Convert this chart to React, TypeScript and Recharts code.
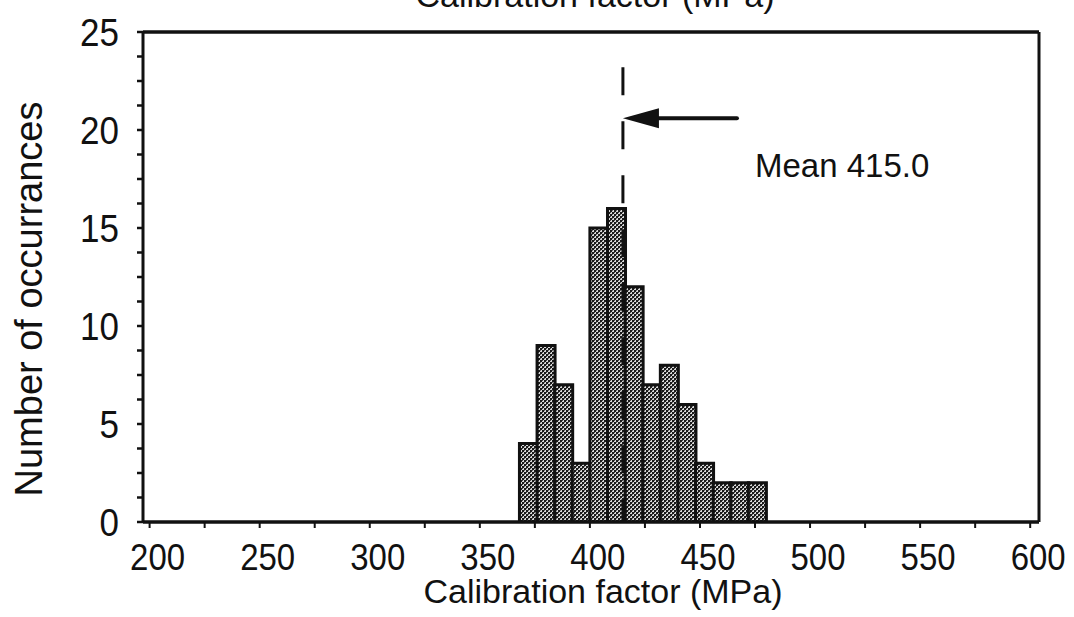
import React from 'react';
import {
  ComposedChart,
  Bar,
  XAxis,
  YAxis,
  ReferenceLine,
  ReferenceDot,
} from 'recharts';

// ---- data ----
const binStarts = [368, 376, 384, 392, 400, 408, 416, 424, 432, 440, 448, 456, 464, 472];
const counts = [4, 9, 7, 3, 15, 16, 12, 7, 8, 6, 3, 2, 2, 2];
const BIN_WIDTH = 8;

const xTicks = [200, 225, 250, 275, 300, 325, 350, 375, 400, 425, 450, 475, 500, 525, 550, 575, 600];
const xLabels = [200, 250, 300, 350, 400, 450, 500, 550, 600];
const yTicks = [0, 1.25, 2.5, 3.75, 5, 6.25, 7.5, 8.75, 10, 11.25, 12.5, 13.75, 15, 16.25, 17.5, 18.75, 20, 21.25, 22.5, 23.75, 25];
const yLabels = [0, 5, 10, 15, 20, 25];

const MEAN = 415.0;
const MEAN_LINE_TOP = 23.2;
const ARROW_Y = 20.6;
const ARROW_TAIL_X = 466.8;
const MEAN_TEXT = { x: 475, y: 17.6, text: 'Mean 415.0' };

const X_DOMAIN: [number, number] = [197, 604];
const Y_DOMAIN: [number, number] = [0, 25];

const data = binStarts.map((s, i) => ({ x: s + BIN_WIDTH / 2, count: counts[i] }));

const FONT = '"Liberation Sans", Arial, Helvetica, sans-serif';
const INK = '#111';

const XTick = (props: any) => {
  const { x, y, payload } = props;
  if (!xLabels.includes(payload.value)) return null;
  return (
    <g transform={`translate(0 ${y}) scale(1 1.12) translate(0 ${-y})`}>
      <text x={x + 8} y={y} dy="0.71em" textAnchor="middle" fontFamily={FONT} fontSize={33} fill={INK}>
        {payload.value}
      </text>
    </g>
  );
};

const YTick = (props: any) => {
  const { x, y, payload } = props;
  if (!yLabels.includes(payload.value)) return null;
  return (
    <g transform={`translate(0 ${y}) scale(1 1.1) translate(0 ${-y})`}>
      <text x={x} y={y} dy="0.36em" textAnchor="end" fontFamily={FONT} fontSize={35} fill={INK}>
        {payload.value}
      </text>
    </g>
  );
};

const ArrowHead = (props: any) => {
  const { cx, cy } = props;
  if (cx == null || cy == null) return null;
  return <path d={`M${cx},${cy} L${cx + 36},${cy - 10} L${cx + 36},${cy + 10} Z`} fill={INK} />;
};

const MeanText = (props: any) => {
  const { cx, cy } = props;
  if (cx == null || cy == null) return null;
  return (
    <text x={cx} y={cy} textAnchor="start" fontFamily={FONT} fontSize={33} fill={INK}>
      {MEAN_TEXT.text}
    </text>
  );
};

export default function App() {
  return (
    <div style={{ position: 'absolute', left: 0, top: 0, width: 1074, height: 617, background: '#fff' }}>
      <ComposedChart
        width={1074}
        height={617}
        data={data}
        margin={{ top: 0, right: 0, bottom: 0, left: 0 }}
        barCategoryGap={0}
        barGap={0}
      >
        <defs>
          <pattern id="stipple" width="4" height="4" patternUnits="userSpaceOnUse">
            <rect x="0" y="0" width="4" height="4" fill="#d8d8d8" />
            <rect x="0" y="0" width="2" height="2" fill="#1a1a1a" />
            <rect x="2" y="2" width="2" height="2" fill="#1a1a1a" />
            <rect x="2" y="0" width="1" height="1" fill="#444" />
            <rect x="0" y="2" width="1" height="1" fill="#666" />
          </pattern>
        </defs>
        <XAxis
          xAxisId="bottom"
          dataKey="x"
          type="number"
          orientation="bottom"
          domain={X_DOMAIN}
          allowDataOverflow
          ticks={xTicks}
          interval={0}
          height={95}
          tickSize={6}
          tickMargin={16}
          tick={<XTick />}
          axisLine={{ stroke: INK, strokeWidth: 3.5 }}
          tickLine={{ stroke: INK, strokeWidth: 2 }}
          label={{
            content: (p: any) => {
              const vb = p.viewBox || { x: 143, width: 896 };
              return (
                <text x={vb.x + vb.width / 2 + 12} y={603} textAnchor="middle" fontFamily={FONT} fontSize={34} fill={INK}>
                  Calibration factor (MPa)
                </text>
              );
            },
          }}
        />
        <XAxis
          xAxisId="top"
          type="number"
          orientation="top"
          domain={X_DOMAIN}
          allowDataOverflow
          ticks={xTicks}
          interval={0}
          height={32}
          tickSize={6}
          tick={false}
          axisLine={{ stroke: INK, strokeWidth: 3.5 }}
          tickLine={{ stroke: INK, strokeWidth: 2 }}
          label={{
            content: (p: any) => {
              const vb = p.viewBox || { x: 143, width: 896 };
              return (
                <text x={vb.x + vb.width / 2 + 4} y={7} textAnchor="middle" fontFamily={FONT} fontSize={34} fill={INK}>
                  Calibration factor (MPa)
                </text>
              );
            },
          }}
        />
        <YAxis
          yAxisId="left"
          type="number"
          orientation="left"
          domain={Y_DOMAIN}
          allowDataOverflow
          ticks={yTicks}
          interval={0}
          width={143}
          tickSize={6}
          tickMargin={18}
          tick={<YTick />}
          axisLine={{ stroke: INK, strokeWidth: 3 }}
          tickLine={{ stroke: INK, strokeWidth: 2.5 }}
          label={{
            content: (p: any) => {
              const vb = p.viewBox || { y: 32, height: 490 };
              const cy = vb.y + vb.height / 2 + 22;
              return (
                <text
                  x={42}
                  y={cy}
                  transform={`rotate(-90, 42, ${cy})`}
                  textAnchor="middle"
                  fontFamily={FONT}
                  fontSize={38}
                  fill={INK}
                >
                  Number of occurrances
                </text>
              );
            },
          }}
        />
        <YAxis
          yAxisId="right"
          type="number"
          orientation="right"
          domain={Y_DOMAIN}
          allowDataOverflow
          ticks={yTicks}
          interval={0}
          width={35}
          tickSize={6}
          tick={false}
          axisLine={{ stroke: INK, strokeWidth: 3 }}
          tickLine={{ stroke: INK, strokeWidth: 2.5 }}
        />
        <Bar
          xAxisId="bottom"
          yAxisId="left"
          dataKey="count"
          fill="url(#stipple)"
          stroke={INK}
          strokeWidth={3}
          isAnimationActive={false}
        />
        <ReferenceLine
          xAxisId="bottom"
          yAxisId="left"
          segment={[
            { x: MEAN, y: MEAN_LINE_TOP },
            { x: MEAN, y: 0 },
          ]}
          stroke={INK}
          strokeWidth={3}
          strokeDasharray="28 26"
          ifOverflow="visible"
        />
        <ReferenceLine
          xAxisId="bottom"
          yAxisId="left"
          segment={[
            { x: MEAN + 10, y: ARROW_Y },
            { x: ARROW_TAIL_X, y: ARROW_Y },
          ]}
          stroke={INK}
          strokeWidth={4}
          strokeLinecap="round"
          ifOverflow="visible"
        />
        <ReferenceDot
          xAxisId="bottom"
          yAxisId="left"
          x={MEAN}
          y={ARROW_Y}
          r={0}
          shape={<ArrowHead />}
          ifOverflow="visible"
        />
        <ReferenceDot
          xAxisId="bottom"
          yAxisId="left"
          x={MEAN_TEXT.x}
          y={MEAN_TEXT.y}
          r={0}
          shape={<MeanText />}
          ifOverflow="visible"
        />
      </ComposedChart>
    </div>
  );
}
